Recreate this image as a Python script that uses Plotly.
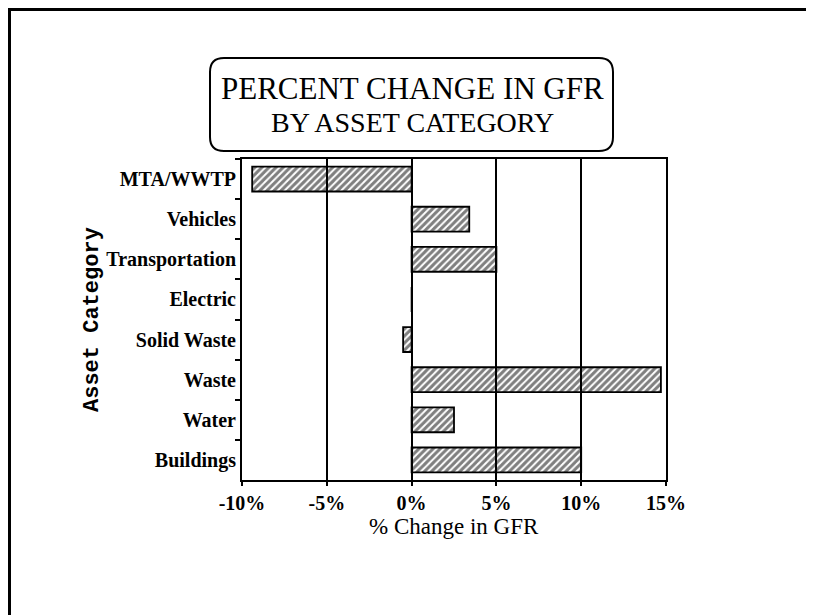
import plotly.graph_objects as go

# Data (top-to-bottom order as shown)
categories = ["MTA/WWTP", "Vehicles", "Transportation", "Electric",
              "Solid Waste", "Waste", "Water", "Buildings"]
pct_change = [-9.4, 3.4, 5.0, 0.0, -0.5, 14.7, 2.5, 10.0]

x_tickvals = [-10, -5, 0, 5, 10, 15]
x_ticktext = ["-10%", "-5%", "0%", "5%", "10%", "15%"]

title_line1 = "PERCENT CHANGE IN GFR"
title_line2 = "BY ASSET CATEGORY"
x_title = "% Change in GFR"
y_title = "Asset Category"

W, H = 814, 615
OFF = 8  # page body margin
L, R, T, B = 242, 666, 159, 480  # plot area in viewport pixels


def px(x):
    return (x - L) / (R - L)


def py(y):
    return (B - y) / (B - T)


fig = go.Figure(go.Bar(
    y=categories, x=pct_change, orientation="h",
    marker=dict(color="rgba(0,0,0,0)",
                line=dict(color="black", width=1.8),
                pattern=dict(shape="/", fgcolor="black", bgcolor="rgba(0,0,0,0)",
                             size=5, solidity=0.6, fillmode="overlay")),
    width=0.62,
))

# Rounded title box
x0, x1, y0, y1 = px(210), px(613), py(58), py(151)
rx, ry = 14 / (R - L), 14 / (B - T)
path = (f"M {x0+rx},{y0} L {x1-rx},{y0} Q {x1},{y0} {x1},{y0-ry} "
        f"L {x1},{y1+ry} Q {x1},{y1} {x1-rx},{y1} L {x0+rx},{y1} "
        f"Q {x0},{y1} {x0},{y1+ry} L {x0},{y0-ry} Q {x0},{y0} {x0+rx},{y0} Z")

shapes = [
    dict(type="path", xref="paper", yref="paper", path=path,
         line=dict(color="black", width=2), fillcolor="rgba(0,0,0,0)"),
    # outer frame (right/bottom lie beyond the page)
    dict(type="rect", xref="paper", yref="paper",
         x0=px(9.5), x1=px(840), y0=py(9.5), y1=py(660),
         line=dict(color="black", width=3), fillcolor="rgba(0,0,0,0)"),
]

annotations = [
    dict(text=title_line1, xref="paper", yref="paper", x=px(412), y=py(88),
         showarrow=False, xanchor="center", yanchor="middle",
         font=dict(family="Liberation Serif", size=31, color="black")),
    dict(text=title_line2, xref="paper", yref="paper", x=px(412), y=py(122),
         showarrow=False, xanchor="center", yanchor="middle",
         font=dict(family="Liberation Serif", size=28, color="black")),
    dict(text=x_title, xref="paper", yref="paper", x=px(454), y=py(526),
         showarrow=False, xanchor="center", yanchor="middle",
         font=dict(family="Liberation Serif", size=23, color="black")),
    dict(text=y_title, xref="paper", yref="paper", x=px(92), y=py(320),
         showarrow=False, xanchor="center", yanchor="middle", textangle=-90,
         font=dict(family="Liberation Mono", size=22, color="black", weight="bold")),
]

fig.update_layout(
    width=W, height=H,
    margin=dict(l=L - OFF, r=W + OFF - R, t=T - OFF, b=H + OFF - B, pad=0),
    paper_bgcolor="white", plot_bgcolor="white",
    showlegend=False,
    shapes=shapes, annotations=annotations,
    xaxis=dict(range=[-10, 15], tickvals=x_tickvals, ticktext=x_ticktext,
               showgrid=True, gridcolor="black", gridwidth=1.5,
               zeroline=False, showline=True, linecolor="black", linewidth=2,
               mirror=True, ticks="outside", ticklen=4, tickwidth=2,
               tickcolor="black", automargin=False,
               tickfont=dict(family="Liberation Serif", size=20, color="black",
                             weight="bold")),
    yaxis=dict(autorange="reversed", showgrid=False, zeroline=False,
               showline=True, linecolor="black", linewidth=2, mirror=True,
               ticks="outside", ticklen=5, tickwidth=1.5, tickcolor="black",
               tickson="boundaries", automargin=False,
               tickfont=dict(family="Liberation Serif", size=20, color="black",
                             weight="bold")),
)

fig.write_html("out.html")
